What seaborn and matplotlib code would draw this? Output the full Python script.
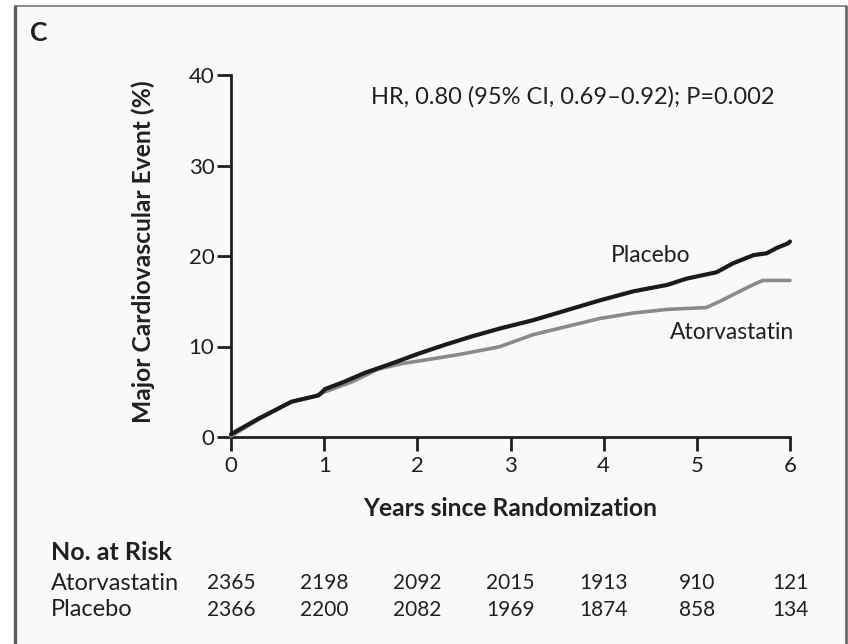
import matplotlib
matplotlib.use("Agg")
import matplotlib.pyplot as plt
from matplotlib.lines import Line2D
from matplotlib.patches import Rectangle
import numpy as np
import pandas as pd
import seaborn as sns

# Cumulative incidence of major cardiovascular events (%) by year
placebo_years = [0, 0.05, 0.29, 0.65, 0.94, 1.01, 1.19, 1.44, 1.72, 2.01, 2.30, 2.58,
                 2.89, 3.24, 3.60, 3.96, 4.32, 4.68, 4.89, 5.21, 5.39, 5.61, 5.75,
                 5.86, 5.98, 6.0]
placebo_pct = [0.3, 0.6, 2.0, 3.9, 4.6, 5.3, 6.0, 7.1, 8.1, 9.2, 10.2, 11.1,
               12.0, 12.9, 14.0, 15.1, 16.1, 16.8, 17.5, 18.2, 19.2, 20.1, 20.3,
               20.9, 21.4, 21.6]

atorva_years = [0, 0.05, 0.29, 0.65, 0.90, 1.01, 1.30, 1.58, 1.83, 2.08, 2.44, 2.80,
                2.89, 3.24, 3.60, 3.96, 4.32, 4.68, 5.10, 5.25, 5.46, 5.64, 5.71, 6.0]
atorva_pct = [0.1, 0.4, 1.9, 3.9, 4.5, 5.0, 6.1, 7.5, 8.1, 8.5, 9.1, 9.8,
              10.0, 11.3, 12.2, 13.1, 13.7, 14.1, 14.3, 15.0, 16.1, 17.0, 17.3, 17.3]

group_names = ["Atorvastatin", "Placebo"]
year_ticks = [0, 1, 2, 3, 4, 5, 6]
pct_ticks = [0, 10, 20, 30, 40]
at_risk_atorva = [2365, 2198, 2092, 2015, 1913, 910, 121]
at_risk_placebo = [2366, 2200, 2082, 1969, 1874, 858, 134]
hr_text = "HR, 0.80 (95% CI, 0.69\u20130.92); P=0.002"

df = pd.concat([
    pd.DataFrame({"years": placebo_years, "pct": placebo_pct, "group": "Placebo"}),
    pd.DataFrame({"years": atorva_years, "pct": atorva_pct, "group": "Atorvastatin"}),
], ignore_index=True)

sns.set_theme(style="white")
plt.rcParams["font.family"] = ["Lato", "DejaVu Sans"]
ink = "#231f20"

W, H = 848, 644
fig = plt.figure(figsize=(W / 100, H / 100), dpi=100, facecolor="white")

# Panel frame
fig.patches.append(Rectangle((15 / W, 0), (846 - 15) / W, 1 - 6 / H,
                             transform=fig.transFigure, facecolor="#f9f9f9",
                             edgecolor="none", zorder=-10))
fig.lines.append(Line2D([15 / W, 15 / W], [0, 1 - 6 / H], transform=fig.transFigure,
                        color="#5a5a5a", lw=2.4))
fig.lines.append(Line2D([15 / W, 846 / W], [1 - 6 / H, 1 - 6 / H],
                        transform=fig.transFigure, color="#7a7a7a", lw=1.2))
fig.lines.append(Line2D([846 / W, 846 / W], [0, 1 - 6 / H], transform=fig.transFigure,
                        color="#5a5a5a", lw=1.8))

ax = fig.add_axes([231 / W, 1 - 437 / H, (790 - 231) / W, (437 - 75) / H])
ax.set_facecolor("none")
ax.set_zorder(5)

sns.lineplot(data=df, x="years", y="pct", hue="group", hue_order=group_names,
             palette={"Placebo": "#1a1a1a", "Atorvastatin": "#8a8a8a"},
             ax=ax, legend=False, estimator=None, sort=False)
for ln in ax.get_lines():
    ln.set_solid_joinstyle("miter")
    ln.set_clip_on(False)
    if ln.get_color() == "#1a1a1a":
        ln.set_linewidth(3.0)
        ln.set_zorder(4)
    else:
        ln.set_linewidth(2.6)
        ln.set_zorder(3)

ax.set_xlim(0, 6)
ax.set_ylim(0, 40)
ax.set_xticks(year_ticks)
ax.set_yticks(pct_ticks)
ax.set_xticklabels([str(v) for v in year_ticks])
ax.set_yticklabels([str(v) for v in pct_ticks])
for s in ["top", "right"]:
    ax.spines[s].set_visible(False)
for s in ["left", "bottom"]:
    ax.spines[s].set_color(ink)
    ax.spines[s].set_linewidth(2.0)
ax.tick_params(axis="both", direction="out", length=10, width=2.0, color=ink,
               labelsize=16, labelcolor=ink, left=True, bottom=True)
ax.tick_params(axis="x", pad=4)
ax.tick_params(axis="y", pad=2)

ax.set_xlabel("Years since Randomization", fontsize=17.7, fontweight="bold",
              color=ink)
ax.set_ylabel("Major Cardiovascular Event (%)", fontsize=17.7, fontweight="bold",
              color=ink)
ax.xaxis.set_label_coords(0.5, (437 - 508) / 362)
ax.xaxis.label.set_va("center")
ax.yaxis.set_label_coords((143 - 231) / 559, (437 - 252) / 362)
ax.yaxis.label.set_va("center")

ax.text(5.83, 37.6, hr_text, fontsize=17, color=ink, ha="right", va="center")
ax.text(4.5, 20.0, "Placebo", fontsize=16.5, color=ink, ha="center", va="center")
ax.text(6.05, 11.5, "Atorvastatin", fontsize=16.5, color=ink, ha="right", va="center")

fig.text(30 / W, 1 - 33 / H, "C", fontsize=19, fontweight="bold", color=ink,
         ha="left", va="center")

# Numbers at risk
fig.text(51 / W, 1 - 553 / H, "No. at Risk", fontsize=18, fontweight="bold",
         color=ink, ha="left", va="center")
row_y = {"Atorvastatin": 1 - 583 / H, "Placebo": 1 - 610 / H}
rows = {"Atorvastatin": at_risk_atorva, "Placebo": at_risk_placebo}
for name in group_names:
    fig.text(51 / W, row_y[name], name, fontsize=17, color=ink, ha="left", va="center")
    for yr, n in zip(year_ticks, rows[name]):
        xf = fig.transFigure.inverted().transform(ax.transData.transform((yr, 0)))[0]
        fig.text(xf, row_y[name], str(n), fontsize=15, color=ink,
                 ha="center", va="center")

fig.savefig("out.png", dpi=100, facecolor=fig.get_facecolor())
